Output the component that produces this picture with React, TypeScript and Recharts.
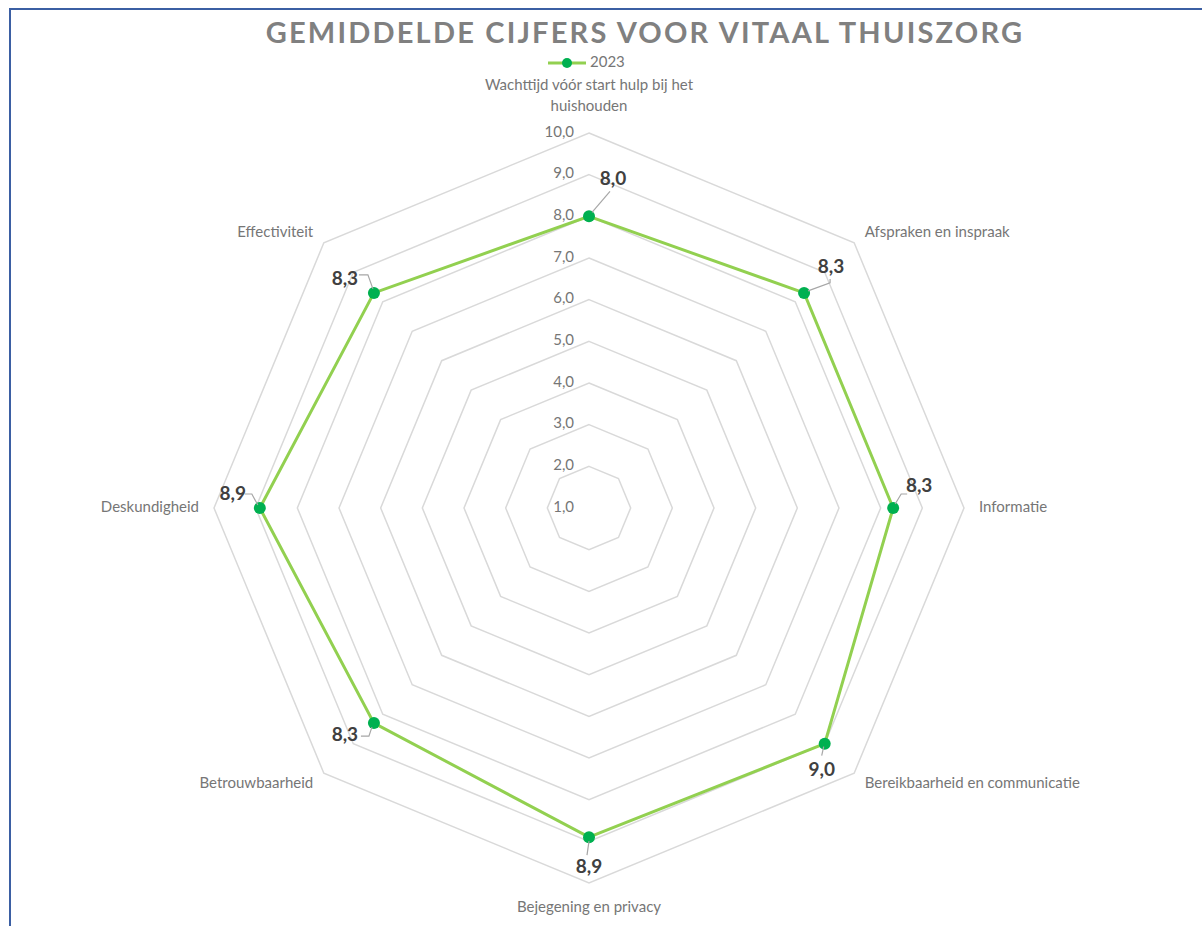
import { RadarChart, Radar, PolarGrid, PolarAngleAxis, PolarRadiusAxis, LabelList, Legend } from "recharts";

const categories = [
  "Wachttijd vóór start hulp bij het huishouden",
  "Afspraken en inspraak",
  "Informatie",
  "Bereikbaarheid en communicatie",
  "Bejegening en privacy",
  "Betrouwbaarheid",
  "Deskundigheid",
  "Effectiviteit",
];
const scores2023 = [8.0, 8.3, 8.3, 9.0, 8.9, 8.3, 8.9, 8.3];
const radiusTicks = [1, 2, 3, 4, 5, 6, 7, 8, 9, 10];
const seriesName = "2023";
const title = "GEMIDDELDE CIJFERS VOOR VITAAL THUISZORG";

const data = categories.map((name, i) => ({ name, score: scores2023[i] }));

const CX = 589;
const CY = 508;
const R = 375;
const LINE = "#92d050";
const MARKER = "#00b050";
const GRID = "#d9d9d9";
const TEXT = "#767676";
const FONT = "Lato, 'Open Sans', sans-serif";

// label offset (dx, dy from the point) and leader path, per category
const labelPos = [
  { dx: 24, dy: -36, leader: [[3, -4], [21, -25]] },
  { dx: 27, dy: -25, leader: [[4, -2], [26, -10], [26, -14]] },
  { dx: 26, dy: -21, leader: [[2, -4], [8, -14], [14, -14]] },
  { dx: -3, dy: 27, leader: [[-1, 3], [-3, 12]] },
  { dx: 0, dy: 31, leader: [[0, 4], [-2, 18]] },
  { dx: -29, dy: 13, leader: [[-2, 4], [-5, 13], [-13, 13]] },
  { dx: -27, dy: -13, leader: [[-2, -3], [-8, -14], [-15, -14]] },
  { dx: -29, dy: -13, leader: [[-1, -4], [-6, -18], [-15, -18]] },
];

const fmt = (v: number) => v.toFixed(1).replace(".", ",");

function wrap(text: string, max: number) {
  const words = text.split(" ");
  const lines: string[] = [];
  let cur = "";
  for (const w of words) {
    if (cur && (cur + " " + w).length > max) {
      lines.push(cur);
      cur = w;
    } else {
      cur = cur ? cur + " " + w : w;
    }
  }
  if (cur) lines.push(cur);
  return lines;
}

function AngleTick(props: any) {
  const { payload } = props;
  const angle = (payload.coordinate * Math.PI) / 180;
  const cos = Math.cos(angle);
  const sin = Math.sin(angle);
  const r = R + 15;
  const x = CX + r * cos;
  const y = CY - r * sin;
  const anchor = cos > 0.1 ? "start" : cos < -0.1 ? "end" : "middle";
  const lines = wrap(String(payload.value), 36);
  const lh = 21;
  let y0 = y;
  if (sin > 0.9) y0 = y - 11 - (lines.length - 1) * lh;
  else if (sin < -0.9) y0 = y + 10;
  else if (sin > 0.1) y0 = y + 1;
  return (
    <text x={x} y={y0} textAnchor={anchor} fill={TEXT} fontSize={15} fontFamily={FONT} dominantBaseline="middle">
      {lines.map((l, i) => (
        <tspan key={i} x={x} y={y0 + i * lh} dominantBaseline="middle">
          {l}
        </tspan>
      ))}
    </text>
  );
}

function RadiusTick(props: any) {
  const { y, payload } = props;
  return (
    <text x={CX - 15} y={y} textAnchor="end" dominantBaseline="middle" fill={TEXT} fontSize={15} fontFamily={FONT}>
      {fmt(payload.value)}
    </text>
  );
}

function ValueLabel(props: any) {
  const { x, y, value, index } = props;
  const p = labelPos[index];
  if (!p) return null;
  const pts = p.leader.map(([a, b]) => `${x + a},${y + b}`).join(" ");
  return (
    <g>
      <polyline points={pts} fill="none" stroke="#a6a6a6" strokeWidth={1.2} />
      <text
        x={x + p.dx}
        y={y + p.dy}
        textAnchor="middle"
        dominantBaseline="middle"
        fill="#404040"
        fontSize={19}
        fontWeight="bold"
        fontFamily={FONT}
      >
        {fmt(value)}
      </text>
    </g>
  );
}

function Marker(props: any) {
  const { cx, cy, index } = props;
  if (cx == null || cy == null) return <g key={`m-${index}`} />;
  return <circle key={`m-${index}`} cx={cx} cy={cy} r={6} fill={MARKER} stroke="none" />;
}

function LegendContent() {
  return (
    <svg width={100} height={24} style={{ overflow: "visible" }}>
      <line x1={2} y1={12} x2={40} y2={12} stroke={LINE} strokeWidth={3} />
      <circle cx={21} cy={12} r={5} fill={MARKER} />
      <text x={44} y={12} dominantBaseline="middle" fill={TEXT} fontSize={15} fontFamily={FONT}>
        {seriesName}
      </text>
    </svg>
  );
}

export default function App() {
  return (
    <div style={{ position: "absolute", left: 0, top: 0, width: 1202, height: 926, background: "#fff", overflow: "hidden" }}>
      <div
        style={{
          position: "absolute",
          left: 9,
          top: 8,
          width: 1300,
          height: 1000,
          borderLeft: "2px solid #3b5fa3",
          borderTop: "2px solid #3b5fa3",
        }}
      />
      <div
        style={{
          position: "absolute",
          left: 0,
          width: 1290,
          top: 14,
          textAlign: "center",
          fontFamily: FONT,
          fontWeight: "bold",
          fontSize: 29,
          letterSpacing: 2.2,
          color: "#808080",
        }}
      >
        {title}
      </div>
      <RadarChart width={1202} height={926} data={data} cx={CX} cy={CY} outerRadius={R} startAngle={90} endAngle={-270}>
        <Legend
          content={<LegendContent />}
          wrapperStyle={{ position: "absolute", left: 546, top: 51, width: 100 }}
        />
        <PolarGrid gridType="polygon" radialLines={false} stroke={GRID} strokeWidth={1.5} />
        <PolarAngleAxis dataKey="name" tick={<AngleTick />} tickLine={false} axisLine={false} />
        <PolarRadiusAxis
          angle={90}
          domain={[1, 10]}
          ticks={radiusTicks as any}
          tickCount={10}
          axisLine={false}
          tickLine={false}
          tick={<RadiusTick />}
        />
        <Radar
          name={seriesName}
          dataKey="score"
          stroke={LINE}
          strokeWidth={3}
          fill="none"
          fillOpacity={0}
          dot={(p: any) => <Marker {...p} />}
          isAnimationActive={false}
        >
          <LabelList dataKey="score" content={<ValueLabel />} />
        </Radar>
      </RadarChart>
    </div>
  );
}
